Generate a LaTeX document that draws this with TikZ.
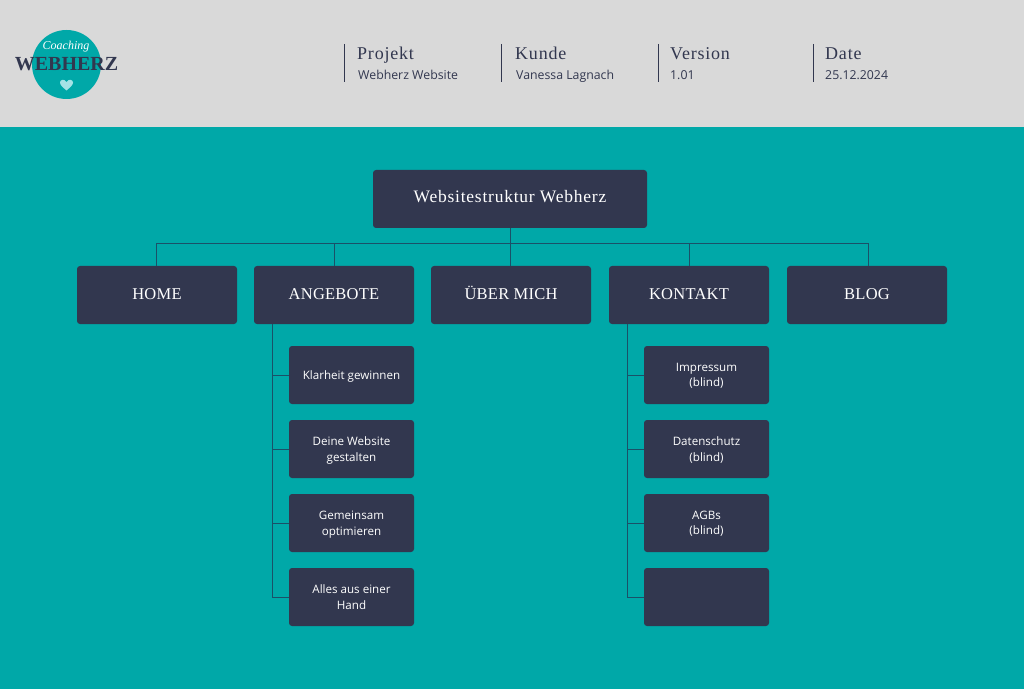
\documentclass[tikz,border=0pt]{standalone}
\usepackage{fontspec}
\setmainfont{Liberation Serif}
\newfontfamily\bodyfont{Open Sans}
\newfontfamily\spacedfont[LetterSpace=4.4]{Liberation Serif}
\newfontfamily\capsfont[LetterSpace=1.5]{Liberation Serif}
\usetikzlibrary{positioning}
\definecolor{headgray}{HTML}{D9D9D9}
\definecolor{tealbg}{HTML}{00A8A8}
\definecolor{navybox}{HTML}{32374F}
\definecolor{linkline}{HTML}{1A5068}
\definecolor{heartblue}{HTML}{A5E3E6}
\tikzset{
  pagebox/.style={fill=navybox,rounded corners=3pt,text=white,align=center,inner sep=0pt,outer sep=0pt},
  toppage/.style={pagebox,minimum width=160pt,minimum height=58pt,text height=9pt,text depth=0pt,font=\capsfont\fontsize{16.5}{18}\selectfont},
  subpage/.style={pagebox,minimum width=125pt,minimum height=58pt,text depth=0pt,font=\bodyfont\fontsize{11.6}{15.5}\selectfont},
  metahead/.style={anchor=base west,inner sep=0pt,text=navybox,font=\spacedfont\fontsize{18}{20}\selectfont},
  metavalue/.style={anchor=base west,inner sep=0pt,text=navybox,font=\bodyfont\fontsize{12.3}{14}\selectfont},
  link/.style={draw=linkline,line width=0.9pt}
}
\begin{document}
\begin{tikzpicture}
    [x=1pt,y=1pt,
    level 1/.style={sibling distance=177.5pt,level distance=96pt},
    every child node/.style={xshift=2pt}]
    \useasboundingbox (0,0) rectangle (1024,689);
    \fill[tealbg] (0,0) rectangle (1024,689);
    \fill[headgray] (0,562) rectangle (1024,689);

    % logo
    \node[circle,fill=tealbg,minimum size=69pt,inner sep=0pt] (logo) at (66.5,624.5) {};
    \node[text=white,inner sep=0pt,font=\itshape\fontsize{12}{12}\selectfont] (logotop) at (66,642) {Coaching};
    \node[text=navybox,inner sep=0pt,font=\bfseries\fontsize{20}{20}\selectfont] (logoname) at (66.5,625) {WEBHERZ};
    \coordinate (logoheart) at (66.5,604);
    \begin{scope}[shift={(logoheart)}]
      \fill[heartblue] (0,-5.5) .. controls (-4,-2) and (-6.5,0) .. (-6.5,2.5)
        .. controls (-6.5,5.5) and (-2,6.5) .. (0,3)
        .. controls (2,6.5) and (6.5,5.5) .. (6.5,2.5)
        .. controls (6.5,0) and (4,-2) .. (0,-5.5) -- cycle;
    \end{scope}

    % project data
    \foreach \name/\xa/\xb/\xc/\head/\val in {
      projekt/344.5/357/358/Projekt/Webherz Website,
      kunde/501/515/516/Kunde/Vanessa Lagnach,
      version/658.5/670/670/Version/1.01,
      datum/813.5/825/825/Date/25.12.2024}{
      \node[metahead] (\name head) at (\xb,629) {\head};
      \node[metavalue] (\name val) at (\xc,609.5) {\val};
      \coordinate (\name top) at (\xa,645);
      \coordinate (\name bot) at (\xa,607);
      \draw[navybox,line width=0.9pt] (\name top) -- (\name bot);
    }

    % pages
    \node[pagebox,minimum width=274pt,minimum height=58pt,text depth=6pt,font=\spacedfont\fontsize{17.5}{18}\selectfont] (root) at (510,490) {Websitestruktur Webherz}
    child { node[toppage] (home) {HOME}
      edge from parent[draw=none]
    }
    child { node[toppage,xshift=-0.5pt] (angebote) {ANGEBOTE}
      edge from parent[draw=none]
    }
    child { node[toppage,xshift=-1pt] (ueber) {ÜBER MICH}
      edge from parent[draw=none]
    }
    child { node[toppage,xshift=-0.5pt] (kontakt) {KONTAKT}
      edge from parent[draw=none]
    }
    child { node[toppage] (blog) {BLOG}
      edge from parent[draw=none]
    } ;

    \node[subpage,below=22pt of angebote.south east,anchor=north east] (klarheit) {Klarheit gewinnen};
    \node[subpage,below=16pt of klarheit] (website) {Deine Website\\gestalten};
    \node[subpage,below=16pt of website] (gemeinsam) {Gemeinsam\\optimieren};
    \node[subpage,below=16pt of gemeinsam] (alles) {Alles aus einer\\Hand};

    \node[subpage,below=22pt of kontakt.south east,anchor=north east] (impressum) {Impressum\\(blind)};
    \node[subpage,below=16pt of impressum] (datenschutz) {Datenschutz\\(blind)};
    \node[subpage,below=16pt of datenschutz] (agb) {AGBs\\(blind)};
    \node[subpage,below=16pt of agb] (leer) {};

    % connectors
    \coordinate (bus) at (510,445.5);
    \coordinate (homedrop) at ([xshift=-1pt]home.north);
    \coordinate (blogdrop) at ([xshift=1pt]blog.north);
    \draw[link] (homedrop) |- (bus) -| (blogdrop);
    \draw[link] (root.south) -- (root.south |- ueber.north);
    \foreach \page in {angebote,kontakt}
      \draw[link] (\page.north |- bus) -- (\page.north);

    \coordinate (angebotestem) at ([xshift=18pt]angebote.south west);
    \coordinate (kontaktstem) at ([xshift=18pt]kontakt.south west);
    \draw[link] (angebotestem) |- (alles.west);
    \draw[link] (kontaktstem) |- (leer.west);
    \foreach \page in {klarheit,website,gemeinsam}
      \draw[link] (angebotestem |- \page.west) -- (\page.west);
    \foreach \page in {impressum,datenschutz,agb}
      \draw[link] (kontaktstem |- \page.west) -- (\page.west);
\end{tikzpicture}
\end{document}
